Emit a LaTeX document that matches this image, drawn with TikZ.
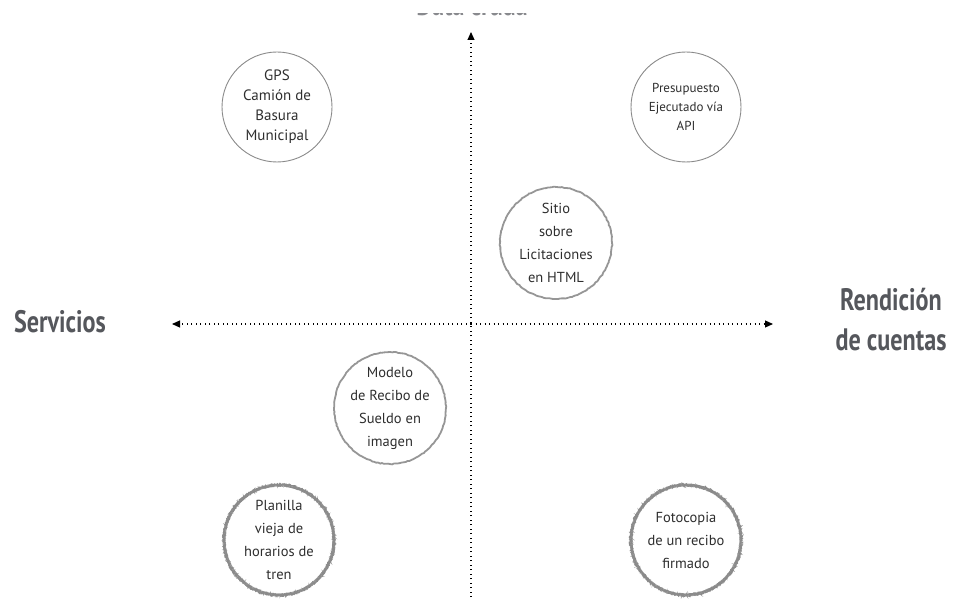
\documentclass[tikz,border=0pt]{standalone}
\usepackage{fontspec}
\setmainfont{PT Sans}
\newfontfamily\labelfont{PT Sans}[FakeStretch=0.78]
\usetikzlibrary{decorations.pathmorphing,arrows.meta}
\definecolor{txt}{HTML}{2E2E2E}
\definecolor{lab}{HTML}{55575C}
\definecolor{ring}{HTML}{8A8A8A}
\tikzset{
  axis/.style={line width=1.1pt, dash pattern=on 0.9pt off 3.6pt, -{Triangle[length=8pt,width=7pt]}, black},
  bubbletext/.style={text=txt, font=\fontsize{14.5}{23}\selectfont, align=center},
  smooth ring/.style={draw=ring, line width=0.9pt},
  mid ring/.style={draw=ring!90, line width=1.8pt, decorate, decoration={random steps, segment length=2pt, amplitude=0.4pt}},
  rough base/.style={draw=ring!85, line width=3pt},
  rough ring/.style={draw=ring, line width=0.6pt, decorate, decoration={random steps, segment length=0.6pt, amplitude=1.7pt}},
  axislabel/.style={text=lab, font=\labelfont\bfseries\fontsize{31}{40}\selectfont, align=center}
}
\begin{document}
\begin{tikzpicture}[x=1pt,y=-1pt]
\useasboundingbox (0,0) rectangle (960,601);
\clip (0,0) rectangle (960,601);
% axes
\coordinate (top) at (471,32);
\coordinate (bottom) at (471,606);
\coordinate (left) at (172,324);
\coordinate (right) at (773,324);
\coordinate (mid) at (471,324);
\draw[axis] (bottom) -- (top);
\draw[axis] (mid) -- (left);
\draw[axis] (mid) -- (right);
% axis labels
\begin{scope}
\clip (0,13.8) rectangle (960,17);
\node[axislabel, text=lab!70, anchor=base] (toplab) at (472,16) {Data cruda};
\end{scope}
\node[axislabel] (serv) at (60,322) {Servicios};
\node[axislabel] (rend) at (891,320) {Rendición\\de cuentas};
% bubbles
\draw[smooth ring] (277,107) circle (55);
\node[bubbletext, font=\fontsize{15}{20}\selectfont] (gps) at (277,107) {GPS\\Camión de\\Basura\\Municipal};
\draw[smooth ring] (686,107) circle (55);
\node[bubbletext, font=\fontsize{13}{19}\selectfont] (pres) at (686,107) {Presupuesto\\Ejecutado vía\\API};
\draw[mid ring] (556,243) circle (56);
\node[bubbletext] (sitio) at (556,243) {Sitio\\sobre\\Licitaciones\\en HTML};
\draw[mid ring] (390,408) circle (56);
\node[bubbletext] (modelo) at (390,408) {Modelo\\de Recibo de\\Sueldo en\\imagen};
\draw[rough base] (279,540) circle (55);
\draw[rough ring] (279,540) circle (55);
\draw[rough ring] (279,540) circle (55.3);
\node[bubbletext] (planilla) at (279,540) {Planilla\\vieja de\\horarios de\\tren};
\draw[rough base] (686,540) circle (55);
\draw[rough ring] (686,540) circle (55);
\draw[rough ring] (686,540) circle (55.3);
\node[bubbletext] (foto) at (686,540) {Fotocopia\\de un recibo\\firmado};
\end{tikzpicture}
\end{document}
